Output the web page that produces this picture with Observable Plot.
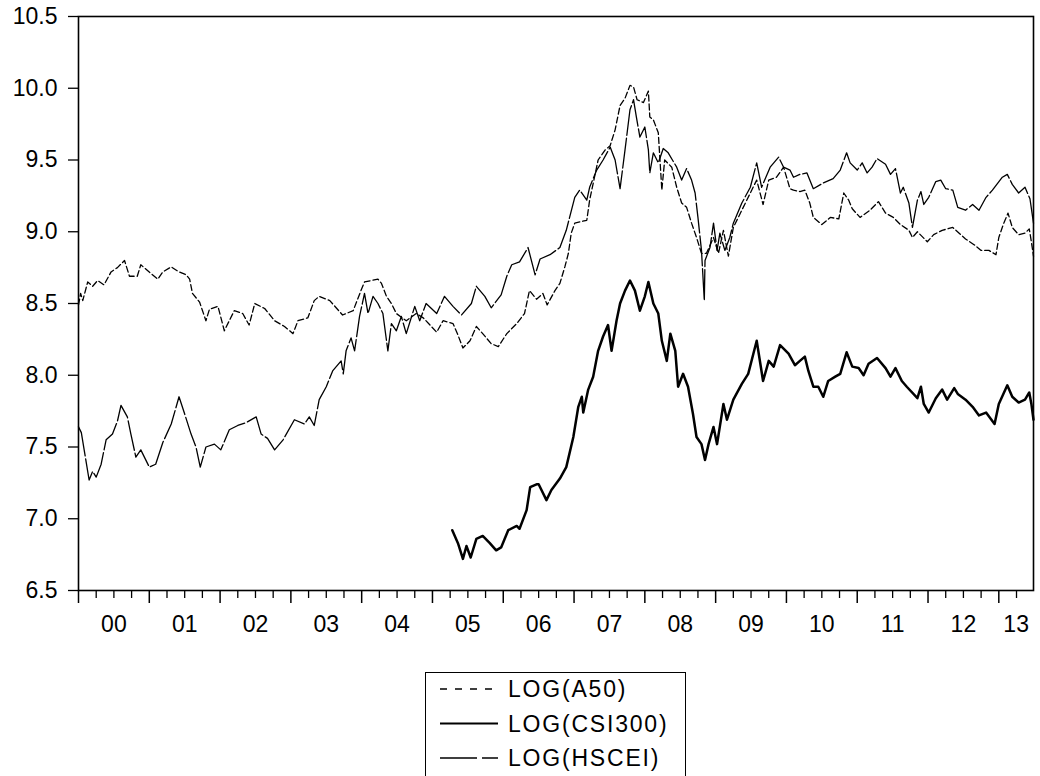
<!DOCTYPE html>
<html>
<head>
<meta charset="utf-8">
<script src="https://cdn.jsdelivr.net/npm/d3@7"></script>
<script src="https://cdn.jsdelivr.net/npm/@observablehq/plot@0.6"></script>
<style>
  html, body { margin: 0; padding: 0; background: #fff; overflow: hidden; }
  body { font-family: "Liberation Sans", Arial, sans-serif; width: 1040px; height: 776px; position: relative; }
  #legend { position: absolute; left: 425px; top: 672px; width: 261px; height: 112px; border: 1.5px solid #000; box-sizing: border-box; background: #fff; }
</style>
</head>
<body>
<div id="chart"></div>
<div id="legend"></div>
<script>
// ---- Data (decimal years, log index levels) ----
const seriesNames = ["LOG(A50)", "LOG(CSI300)", "LOG(HSCEI)"];

const a50_t = [2000.00,2000.03,2000.06,2000.13,2000.20,2000.27,2000.36,2000.46,2000.55,2000.65,2000.72,2000.83,2000.88,2000.95,2001.12,2001.19,2001.31,2001.42,2001.52,2001.57,2001.61,2001.71,2001.80,2001.85,2001.97,2002.06,2002.13,2002.20,2002.32,2002.41,2002.49,2002.63,2002.77,2002.91,2003.03,2003.10,2003.24,2003.33,2003.40,2003.55,2003.73,2003.88,2003.99,2004.04,2004.23,2004.28,2004.35,2004.42,2004.49,2004.63,2004.77,2004.87,2005.06,2005.15,2005.29,2005.36,2005.43,2005.53,2005.62,2005.71,2005.83,2005.93,2006.05,2006.19,2006.30,2006.37,2006.47,2006.56,2006.62,2006.73,2006.80,2006.87,2006.92,2006.96,2007.01,2007.18,2007.22,2007.34,2007.44,2007.51,2007.58,2007.65,2007.72,2007.79,2007.84,2007.89,2007.98,2008.05,2008.07,2008.12,2008.19,2008.24,2008.28,2008.38,2008.45,2008.52,2008.59,2008.66,2008.73,2008.80,2008.87,2008.97,2009.04,2009.11,2009.18,2009.25,2009.37,2009.49,2009.58,2009.67,2009.75,2009.86,2009.96,2010.05,2010.10,2010.19,2010.26,2010.33,2010.38,2010.50,2010.62,2010.74,2010.81,2010.88,2010.93,2011.04,2011.18,2011.30,2011.40,2011.51,2011.61,2011.73,2011.78,2011.85,2011.99,2012.08,2012.20,2012.35,2012.44,2012.53,2012.65,2012.75,2012.86,2012.96,2013.00,2013.07,2013.13,2013.19,2013.28,2013.37,2013.43,2013.46,2013.49];
const a50_v = [8.49,8.57,8.52,8.65,8.62,8.66,8.63,8.72,8.75,8.80,8.69,8.69,8.77,8.74,8.67,8.72,8.755,8.72,8.70,8.67,8.57,8.51,8.38,8.46,8.48,8.31,8.38,8.45,8.43,8.35,8.50,8.465,8.38,8.34,8.29,8.38,8.40,8.52,8.55,8.52,8.42,8.45,8.59,8.65,8.67,8.64,8.55,8.50,8.43,8.38,8.43,8.40,8.30,8.38,8.36,8.28,8.19,8.24,8.34,8.29,8.22,8.20,8.29,8.36,8.43,8.59,8.53,8.57,8.49,8.59,8.64,8.755,8.85,8.99,9.06,9.08,9.22,9.50,9.57,9.60,9.71,9.88,9.93,10.02,10.01,9.92,9.90,9.98,9.80,9.78,9.69,9.29,9.50,9.45,9.31,9.20,9.17,9.06,8.96,8.85,8.85,8.96,8.85,9.01,8.83,9.03,9.15,9.27,9.36,9.19,9.36,9.38,9.45,9.30,9.29,9.28,9.29,9.20,9.10,9.05,9.10,9.09,9.27,9.22,9.16,9.10,9.15,9.21,9.13,9.10,9.05,9.01,8.96,9.00,8.93,8.98,9.01,9.03,8.99,8.95,8.91,8.87,8.87,8.84,8.96,9.06,9.13,9.03,8.98,8.99,9.02,8.93,8.83];

const hscei_t = [2000.00,2000.04,2000.08,2000.15,2000.20,2000.25,2000.32,2000.39,2000.48,2000.55,2000.60,2000.69,2000.74,2000.81,2000.88,2001.00,2001.09,2001.19,2001.31,2001.42,2001.50,2001.59,2001.66,2001.72,2001.80,2001.92,2002.01,2002.13,2002.25,2002.37,2002.51,2002.58,2002.67,2002.77,2002.89,2003.05,2003.19,2003.26,2003.33,2003.40,2003.50,2003.59,2003.71,2003.74,2003.78,2003.85,2003.90,2003.97,2004.04,2004.09,2004.16,2004.23,2004.30,2004.37,2004.42,2004.49,2004.56,2004.63,2004.75,2004.82,2004.91,2005.06,2005.17,2005.29,2005.41,2005.55,2005.62,2005.74,2005.83,2005.97,2006.05,2006.12,2006.23,2006.35,2006.45,2006.52,2006.66,2006.80,2006.89,2007.01,2007.08,2007.18,2007.22,2007.32,2007.41,2007.51,2007.58,2007.65,2007.72,2007.79,2007.84,2007.88,2007.93,2008.00,2008.05,2008.07,2008.12,2008.19,2008.26,2008.33,2008.45,2008.52,2008.59,2008.66,2008.71,2008.75,2008.80,2008.84,2008.85,2008.92,2008.97,2009.02,2009.06,2009.13,2009.20,2009.25,2009.37,2009.49,2009.58,2009.65,2009.77,2009.89,2009.96,2010.05,2010.10,2010.19,2010.29,2010.38,2010.52,2010.66,2010.76,2010.85,2010.90,2011.00,2011.07,2011.14,2011.21,2011.28,2011.40,2011.47,2011.54,2011.61,2011.65,2011.73,2011.78,2011.85,2011.90,2011.94,2012.01,2012.11,2012.18,2012.25,2012.35,2012.42,2012.53,2012.63,2012.72,2012.82,2012.91,2013.05,2013.12,2013.19,2013.28,2013.37,2013.44,2013.49];
const hscei_v = [7.64,7.60,7.48,7.27,7.33,7.29,7.38,7.55,7.59,7.68,7.79,7.71,7.59,7.43,7.48,7.36,7.38,7.53,7.66,7.85,7.73,7.59,7.50,7.36,7.50,7.52,7.48,7.62,7.65,7.67,7.71,7.59,7.56,7.48,7.55,7.69,7.66,7.71,7.65,7.83,7.92,8.03,8.10,8.01,8.17,8.26,8.17,8.41,8.57,8.43,8.55,8.50,8.43,8.17,8.36,8.31,8.41,8.29,8.48,8.38,8.50,8.43,8.55,8.48,8.42,8.50,8.62,8.55,8.47,8.56,8.69,8.77,8.79,8.89,8.70,8.81,8.84,8.89,9.01,9.24,9.29,9.22,9.31,9.43,9.50,9.59,9.50,9.30,9.57,9.85,9.92,9.80,9.66,9.73,9.57,9.41,9.55,9.48,9.58,9.55,9.45,9.36,9.44,9.36,9.27,9.10,8.87,8.52,8.80,8.89,9.06,8.87,8.99,8.87,8.96,9.06,9.20,9.31,9.48,9.31,9.45,9.52,9.45,9.43,9.38,9.40,9.41,9.30,9.34,9.37,9.43,9.55,9.48,9.43,9.48,9.41,9.45,9.51,9.47,9.40,9.44,9.27,9.31,9.20,9.03,9.22,9.28,9.19,9.24,9.35,9.36,9.30,9.29,9.17,9.15,9.19,9.15,9.24,9.29,9.38,9.40,9.33,9.27,9.31,9.23,9.06];

const csi300_t = [2005.28,2005.36,2005.43,2005.48,2005.54,2005.62,2005.71,2005.81,2005.90,2005.97,2006.07,2006.19,2006.23,2006.33,2006.38,2006.47,2006.50,2006.61,2006.68,2006.80,2006.89,2006.99,2007.06,2007.11,2007.13,2007.20,2007.27,2007.34,2007.41,2007.48,2007.53,2007.60,2007.65,2007.72,2007.79,2007.86,2007.93,2008.00,2008.05,2008.12,2008.19,2008.24,2008.31,2008.36,2008.43,2008.47,2008.54,2008.61,2008.68,2008.73,2008.80,2008.85,2008.90,2008.97,2009.02,2009.11,2009.16,2009.25,2009.37,2009.46,2009.58,2009.67,2009.75,2009.82,2009.91,2010.03,2010.12,2010.19,2010.26,2010.31,2010.38,2010.45,2010.52,2010.59,2010.69,2010.76,2010.85,2010.93,2011.02,2011.09,2011.16,2011.28,2011.40,2011.47,2011.54,2011.63,2011.70,2011.85,2011.90,2011.94,2012.01,2012.11,2012.20,2012.27,2012.37,2012.42,2012.53,2012.63,2012.72,2012.82,2012.94,2013.00,2013.12,2013.19,2013.28,2013.37,2013.43,2013.46,2013.49];
const csi300_v = [6.92,6.83,6.72,6.81,6.73,6.86,6.88,6.83,6.78,6.80,6.92,6.95,6.93,7.06,7.22,7.24,7.24,7.13,7.20,7.28,7.36,7.57,7.78,7.85,7.74,7.90,7.99,8.17,8.27,8.35,8.17,8.38,8.50,8.59,8.66,8.59,8.45,8.55,8.65,8.50,8.43,8.24,8.10,8.29,8.17,7.92,8.01,7.92,7.73,7.57,7.52,7.41,7.52,7.64,7.52,7.80,7.69,7.83,7.94,8.01,8.24,7.96,8.10,8.06,8.21,8.15,8.07,8.10,8.13,8.03,7.92,7.92,7.85,7.96,7.99,8.01,8.16,8.06,8.05,8.00,8.08,8.12,8.05,7.99,8.05,7.96,7.92,7.84,7.92,7.80,7.74,7.84,7.90,7.83,7.91,7.87,7.83,7.78,7.72,7.74,7.66,7.80,7.93,7.85,7.81,7.83,7.88,7.80,7.69];

const yearLabels = ["00","01","02","03","04","05","06","07","08","09","10","11","12","13"];
const yTicks = [6.5, 7.0, 7.5, 8.0, 8.5, 9.0, 9.5, 10.0, 10.5];

// ---- Build tables ----
const toRows = (ts, vs) => ts.map((t, i) => ({t, v: vs[i]}));
const a50 = toRows(a50_t, a50_v);
const hscei = toRows(hscei_t, hscei_v);
const csi300 = toRows(csi300_t, csi300_v);

const xStart = 2000, xEnd = 2013.49;
const majorTicks = d3.range(xStart, 2014, 1);
const minorTicks = [];
for (let y = 2000; y < 2014; y++) for (const q of [0.25, 0.5, 0.75]) if (y + q <= xEnd) minorTicks.push(y + q);
const labelPos = yearLabels.map((_, i) => {
  const a = 2000 + i, b = Math.min(2001 + i, xEnd);
  return (a + b) / 2;
});
const labelMap = new Map(labelPos.map((p, i) => [p, yearLabels[i]]));

const FONT = "'Liberation Sans', Arial, sans-serif";

const chart = Plot.plot({
  width: 1040,
  height: 650,
  marginLeft: 78,
  marginRight: 7,
  marginTop: 16,
  marginBottom: 60,
  style: {fontFamily: FONT, fontSize: "23px", color: "#000", background: "#fff", overflow: "visible"},
  x: {domain: [xStart, xEnd], axis: null},
  y: {domain: [6.5, 10.5], axis: null},
  marks: [
    Plot.line(a50, {x: "t", y: "v", stroke: "#000", strokeWidth: 1.3, strokeDasharray: "6,3"}),
    Plot.line(hscei, {x: "t", y: "v", stroke: "#000", strokeWidth: 1.3, strokeDasharray: "30,3"}),
    Plot.line(csi300, {x: "t", y: "v", stroke: "#000", strokeWidth: 2.5}),
    Plot.frame({stroke: "#000", strokeWidth: 1.6}),
    Plot.axisY({ticks: yTicks, tickSize: 10, tickPadding: 11, tickFormat: d3.format(".1f"),
      fontSize: 23, fontFamily: FONT, stroke: "#000", strokeWidth: 1.3, label: null}),
    Plot.axisX({ticks: majorTicks, tickSize: 13, tickFormat: () => "", stroke: "#000", strokeWidth: 1.5, label: null}),
    Plot.axisX({ticks: minorTicks, tickSize: 8, tickFormat: () => "", stroke: "#000", strokeWidth: 1.3, label: null}),
    Plot.axisX({ticks: labelPos, tickSize: 0, tickPadding: 25, tickFormat: d => labelMap.get(d),
      fontSize: 23, fontFamily: FONT, label: null})
  ]
});
document.getElementById("chart").appendChild(chart);

// ---- Legend (below the chart) ----
const legendStyles = [
  {dash: "7,8", width: 1.3},
  {dash: null, width: 2.2},
  {dash: "37,5", width: 1.3}
];
const lg = d3.select("#legend").append("svg").attr("width", 258).attr("height", 110)
  .style("font-family", FONT).style("font-size", "23px");
seriesNames.forEach((name, i) => {
  const yb = 16 + i * 34.5;
  const line = lg.append("line").attr("x1", 14).attr("x2", 72).attr("y1", yb).attr("y2", yb)
    .attr("stroke", "#000").attr("stroke-width", legendStyles[i].width);
  if (legendStyles[i].dash) line.attr("stroke-dasharray", legendStyles[i].dash);
  lg.append("text").attr("x", 82).attr("y", yb + 8).attr("fill", "#000")
    .style("letter-spacing", "1.8px").text(name);
});
</script>
</body>
</html>
